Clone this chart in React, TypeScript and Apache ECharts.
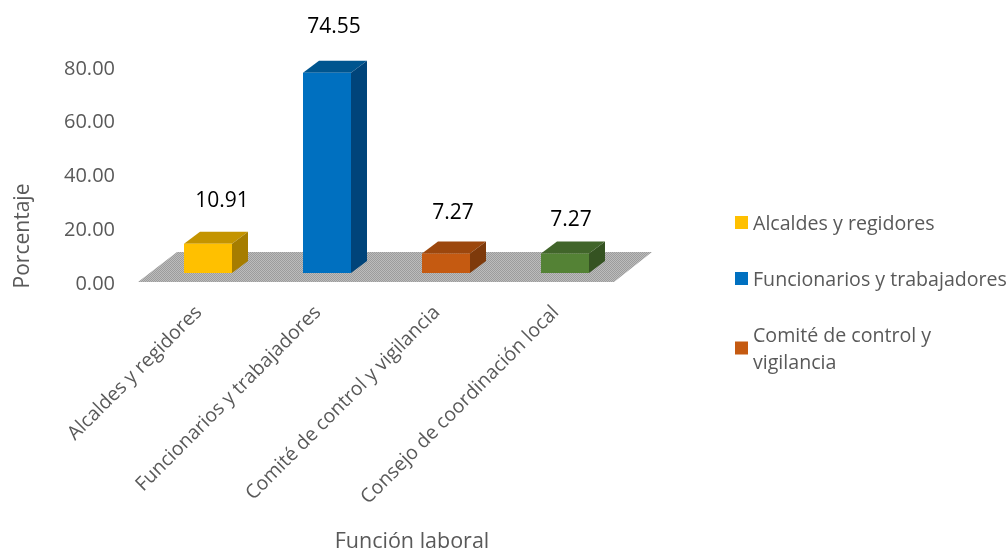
import React, { useEffect, useRef } from "react";
import * as echarts from "echarts";

const categories = [
  "Alcaldes y regidores",
  "Funcionarios y trabajadores",
  "Comité de control y vigilancia",
  "Consejo de coordinación local",
];
const values = [10.91, 74.55, 7.27, 7.27];
const legendNames = [
  "Alcaldes y regidores",
  "Funcionarios y trabajadores",
  "Comité de control y vigilancia",
];
const frontColors = ["#FFC000", "#0070C0", "#C55A11", "#548235"];
const topColors = ["#C49400", "#00558F", "#9C470D", "#41652A"];
const sideColors = ["#A67D00", "#00447A", "#7E3A0B", "#355322"];
const labelGaps = [33, 36, 30, 23];
const labelShifts = [14, 7, 7, 6];
const FONT = "'Open Sans'";
const GREY = "#595959";
const barWidth = 48;
const depthX = 16;
const depthY = 12;
const shiftX = 10.5;
const shiftY = -9;

function floorPattern(): string {
  const c = document.createElement("canvas");
  c.width = 4;
  c.height = 4;
  const g = c.getContext("2d")!;
  for (let x = 0; x < 4; x++) {
    for (let y = 0; y < 4; y++) {
      g.fillStyle = (x + y) % 2 === 0 ? "#9c9c9c" : "#bcbcbc";
      g.fillRect(x, y, 1, 1);
    }
  }
  return c.toDataURL();
}

export default function App() {
  const ref = useRef<HTMLDivElement>(null);
  useEffect(() => {
    const chart = echarts.init(ref.current!, undefined, { renderer: "svg" });
    const pattern = floorPattern();

    const barSeries = categories.map((name, i) => ({
      type: "custom",
      name,
      z: 3,
      itemStyle: { color: frontColors[i] },
      data: [[i, values[i]]],
      renderItem: (_p: any, api: any) => {
        const idx = api.value(0);
        const top = api.coord([idx, api.value(1)]);
        const base = api.coord([idx, 0]);
        const x0 = top[0] + shiftX - barWidth / 2;
        const x1 = x0 + barWidth;
        const yT = top[1] + shiftY;
        const yB = base[1] + shiftY;
        return {
          type: "group",
          children: [
            {
              type: "polygon",
              shape: { points: [[x0, yT], [x1, yT], [x1 + depthX, yT - depthY], [x0 + depthX, yT - depthY]] },
              style: { fill: topColors[i] },
            },
            {
              type: "polygon",
              shape: { points: [[x1, yT], [x1 + depthX, yT - depthY], [x1 + depthX, yB - depthY], [x1, yB]] },
              style: { fill: sideColors[i] },
            },
            {
              type: "rect",
              shape: { x: x0, y: yT, width: barWidth, height: yB - yT },
              style: { fill: frontColors[i] },
            },
            {
              type: "text",
              style: {
                x: x0 + barWidth / 2 + labelShifts[i],
                y: yT - depthY - labelGaps[i],
                text: values[i].toFixed(2),
                fill: "#000000",
                font: `21px ${FONT}`,
                align: "center",
                verticalAlign: "middle",
              },
            },
          ],
        };
      },
    }));

    chart.setOption({
      animation: false,
      grid: { left: 138, right: 394, top: 67, bottom: 270 },
      xAxis: {
        type: "category",
        data: categories,
        axisLine: { show: false },
        axisTick: { show: false },
        splitLine: { show: false },
        axisLabel: {
          interval: 0,
          rotate: 45,
          margin: 26,
          color: GREY,
          fontFamily: FONT,
          fontSize: 19.5,
        },
      },
      yAxis: {
        type: "value",
        min: 0,
        max: 80,
        interval: 20,
        axisLine: { show: false },
        axisTick: { show: false },
        splitLine: { show: false },
        axisLabel: {
          margin: 23,
          color: GREY,
          fontFamily: FONT,
          fontSize: 20,
          formatter: (v: number) => v.toFixed(2),
        },
      },
      legend: {
        data: legendNames,
        orient: "vertical",
        left: 735,
        top: 209,
        padding: 0,
        icon: "rect",
        itemWidth: 13,
        itemHeight: 13,
        itemGap: 29,
        selectedMode: false,
        formatter: (n: string) => n.replace("control y ", "control y\n"),
        textStyle: {
          color: GREY,
          fontFamily: FONT,
          fontSize: 19.6,
          lineHeight: 27,
          padding: [0, 0, 0, 0],
        },
      },
      graphic: [
        {
          type: "text",
          style: {
            x: 412,
            y: 539,
            text: "Función laboral",
            fill: GREY,
            font: `21.5px ${FONT}`,
            align: "center",
            verticalAlign: "middle",
          },
        },
        {
          type: "text",
          x: 21,
          y: 236,
          rotation: Math.PI / 2,
          style: {
            text: "Porcentaje",
            fill: GREY,
            font: `21px ${FONT}`,
            align: "center",
            verticalAlign: "middle",
          },
        },
      ],
      series: [
        {
          type: "custom",
          name: "floor",
          z: 1,
          silent: true,
          data: [[0, 0]],
          renderItem: (p: any, api: any) => {
            const cs = p.coordSys;
            const y = api.coord([0, 0])[1];
            const yBack = y - 30;
            return {
              type: "polygon",
              shape: {
                points: [
                  [cs.x, y],
                  [cs.x + cs.width, y],
                  [cs.x + cs.width + 38, yBack],
                  [cs.x + 39, yBack],
                ],
              },
              style: {
                fill: { image: pattern, repeat: "repeat", imageWidth: 4, imageHeight: 4 },
              },
            };
          },
        },
        ...barSeries,
      ],
    } as any);
    return () => chart.dispose();
  }, []);
  return <div ref={ref} style={{ position: "fixed", left: 0, top: 0, width: 1008, height: 552 }} />;
}
